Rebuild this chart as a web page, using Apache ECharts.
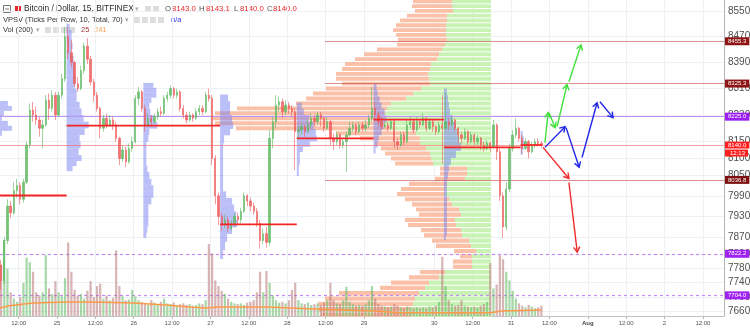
<!DOCTYPE html>
<html>
<head>
<meta charset="utf-8">
<script src="https://cdn.jsdelivr.net/npm/echarts@6.0.0/dist/echarts.min.js"></script>
<style>html,body{margin:0;padding:0;background:#fff;}#chart{width:750px;height:331px;}</style>
</head>
<body>
<div id="chart"></div>
<script>
// ================= DATA =================
// hourly candles, first candle starts at hour index 6 (24 Jul 06:00); [open, close, low, high]
const firstHour = 6;
const candles = [
[7790,7745,7720,7805],[7745,7860,7735,7870],[7860,7960,7850,7980],[7960,7940,7925,7975],[7940,8005,7935,8030],
[8005,8020,7985,8040],[8020,7980,7965,8030],[7980,8030,7970,8040],[8030,8140,8025,8150],[8140,8245,8130,8265],
[8245,8230,8210,8270],[8230,8215,8200,8255],[8215,8190,8165,8225],[8190,8200,8130,8215],[8200,8275,8195,8290],
[8275,8250,8215,8295],[8250,8290,8240,8305],[8290,8230,8215,8300],[8230,8290,8225,8300],[8290,8340,8280,8355],
[8340,8470,8330,8500],[8470,8420,8400,8500],[8420,8390,8375,8460],[8390,8325,8315,8395],[8325,8310,8300,8345],
[8310,8365,8305,8380],[8365,8440,8355,8450],[8440,8400,8385,8465],[8400,8330,8320,8410],[8330,8290,8270,8340],
[8290,8250,8240,8300],[8250,8190,8160,8255],[8190,8220,8180,8230],[8220,8200,8190,8235],[8200,8215,8195,8230],
[8215,8200,8185,8225],[8200,8160,8150,8210],[8160,8100,8080,8165],[8100,8125,8090,8140],[8125,8090,8075,8135],
[8090,8130,8085,8145],[8130,8150,8120,8165],[8150,8280,8145,8290],[8280,8300,8260,8315],[8300,8250,8240,8305],
[8250,8200,8180,8260],[8200,8220,8195,8235],[8220,8210,8200,8230],[8210,8225,8205,8235],[8225,8240,8215,8250],
[8240,8235,8225,8255],[8235,8280,8230,8290],[8280,8290,8270,8300],[8290,8310,8280,8320],[8310,8290,8280,8315],
[8290,8300,8280,8310],[8300,8250,8240,8305],[8250,8230,8220,8260],[8230,8215,8205,8240],[8215,8230,8210,8240],
[8230,8220,8210,8235],[8220,8240,8215,8250],[8240,8250,8230,8260],[8250,8240,8230,8260],[8240,8290,8235,8300],
[8290,8280,8270,8310],[8280,8100,8080,8290],[8100,7990,7965,8110],[7990,7930,7905,8000],[7930,7905,7888,7940],
[7905,7920,7895,7935],[7920,7895,7885,7930],[7895,7910,7888,7920],[7910,7930,7900,7940],[7930,7920,7905,7940],
[7920,7945,7910,7955],[7945,7990,7940,8000],[7990,7975,7960,7995],[7975,7960,7945,7985],[7960,7945,7935,7970],
[7945,7910,7900,7955],[7910,7860,7837,7920],[7860,7880,7850,7895],[7880,7855,7840,7900],[7855,8160,7845,8185],
[8160,8210,8130,8225],[8210,8260,8190,8290],[8260,8270,8240,8285],[8270,8240,8220,8280],[8240,8260,8230,8275],
[8260,8250,8235,8270],[8250,8240,8225,8260],[8240,8180,8065,8250],[8180,8185,8160,8200],[8185,8195,8170,8205],
[8195,8180,8165,8200],[8180,8200,8175,8215],[8200,8220,8190,8235],[8220,8210,8195,8230],[8210,8230,8200,8240],
[8230,8220,8195,8240],[8220,8190,8180,8225],[8190,8210,8185,8225],[8210,8160,8140,8215],[8160,8150,8125,8175],
[8150,8170,8140,8180],[8170,8140,8130,8175],[8140,8150,8130,8160],[8150,8170,8060,8180],[8170,8190,8165,8210],
[8190,8200,8180,8210],[8200,8180,8170,8205],[8180,8200,8175,8210],[8200,8190,8180,8210],[8190,8200,8180,8215],
[8200,8220,8190,8230],[8220,8250,8210,8315],[8250,8230,8210,8270],[8230,8210,8195,8240],[8210,8195,8185,8225],
[8195,8200,8190,8210],[8200,8190,8180,8210],[8190,8210,8185,8220],[8210,8150,8130,8215],[8150,8140,8125,8160],
[8140,8170,8135,8180],[8170,8150,8140,8180],[8150,8200,8145,8215],[8200,8210,8190,8225],[8210,8185,8175,8215],
[8185,8210,8180,8225],[8210,8200,8190,8215],[8200,8220,8195,8235],[8220,8190,8180,8225],[8190,8210,8185,8220],
[8210,8195,8180,8215],[8195,8180,8170,8200],[8180,8200,8175,8210],[8200,8190,8085,8290],[8190,8210,8180,8295],
[8210,8200,8185,8220],[8200,8215,8195,8225],[8215,8190,8180,8220],[8190,8170,8145,8195],[8170,8160,8145,8180],
[8160,8180,8155,8190],[8180,8150,8140,8185],[8150,8170,8145,8180],[8170,8150,8140,8175],[8150,8160,8140,8170],
[8160,8140,8125,8165],[8140,8130,8120,8150],[8130,8145,8125,8155],[8145,8135,8120,8150],[8135,8200,8130,8215],
[8200,8120,8095,8205],[8120,7990,7975,8130],[7990,7900,7868,8000],[7900,8010,7890,8030],[8010,8130,8000,8145],
[8130,8170,8120,8185],[8170,8190,8160,8220],[8190,8160,8150,8195],[8160,8130,8115,8170],[8130,8150,8125,8160],
[8150,8120,8100,8155],[8120,8140,8115,8150],[8140,8150,8130,8160],[8150,8145,8135,8160],[8145,8140,8132,8152]
];
const volumes = [
650,960,600,300,220,180,240,420,740,680,
560,300,260,300,770,350,280,440,300,250,
480,930,560,330,260,280,220,320,440,240,
380,410,220,260,200,230,830,380,250,200,
210,330,250,200,180,160,150,200,170,150,
180,220,160,150,170,140,150,160,140,150,
130,140,160,150,200,910,790,450,380,320,
280,220,180,160,150,160,140,170,180,200,
300,560,300,570,420,260,200,170,180,160,
200,330,420,200,160,150,170,140,150,160,
140,170,200,420,200,160,150,200,370,180,
150,130,140,130,150,200,380,220,150,130,
120,110,120,150,130,110,100,120,110,100,
110,100,110,100,120,110,130,180,750,380,
200,150,130,140,200,130,120,110,120,110,
130,150,180,670,350,400,770,720,560,450,
320,220,160,130,110,140,120,100,110,130
];
const volumeMA = [[6.2,100],[9,130],[16.5,165],[27,178],[35,178],[48,165],[58,140],[66.5,110],[71,100],[74,114],
[90,114],[97,100],[110,78],[123,62],[130,45],[150,42],[160,45],[163,62],[175.5,76]];

const xTickHours  = [12,24,36,48,60,72,84,96,108,120,142,154,166,178,190,202,214,226];
const xTickLabels = ['12:00','25','12:00','26','12:00','27','12:00','28','12:00','29','30','12:00','31','12:00','Aug','12:00','2','12:00'];
const priceTicks = [8550,8470,8390,8310,8230,8150,8100,8050,7990,7930,7870,7820,7780,7740,7700,7660];

// visible-range volume profile (anchored right), row price, up volume, down volume
const profilePrices = [8580,8565,8550,8535,8520,8505,8490,8475,8460,8445,8430,8415,8400,8385,8370,8355,8340,8325,8310,8295,8280,8265,8250,8235,8220,8205,8190,8175,8160,8145,8130,8115,8100,8085,8070,8055,8040,8025,8010,7995,7980,7965,7950,7935,7920,7905,7890,7875,7860,7845,7830,7815,7800,7785,7770,7755,7740,7725,7710,7695,7680,7665,7650];
const profileUp   = [39,39,38,44,44,45,45,45,44,46,49,52,54,60,61,63,62,61,70,78,85,100,104,106,108,106,100,75,71,71,65,61,60,58,24,24,26,44,45,46,42,39,32,30,36,35,30,29,22,20,15,19,19,19,46,52,62,66,72,76,78,80,80];
const profileDown = [39,40,38,40,47,50,53,50,49,48,65,75,82,86,88,92,93,88,95,100,100,95,150,170,170,170,155,80,60,45,45,45,40,38,27,27,30,38,45,48,44,40,43,42,50,48,40,38,37,35,22,12,19,19,25,30,38,45,80,90,95,92,90];

// session volume profiles (VPSV)
const sessionStarts = [3,27,51,75,99,123,145,169];
const sessionEnds   = [27,51,75,99,123,145,169,175.7];
const sessionPOC    = [7991,8198,8198,7907,8160,8216,8133,8140];
const sessA = [[8265,18],[8250,22],[8235,14],[8220,12],[8205,18],[8190,22],[8175,12]];
const sessB = [[8500,3],[8480,5],[8460,5],[8440,6],[8420,5],[8400,7],[8380,8],[8360,8],[8340,9],[8320,8],[8300,10],[8280,10],[8260,13],[8240,15],[8220,17],[8200,22],[8180,18],[8160,13],[8140,14],[8120,12],[8100,15],[8085,10],[8070,6]];
const sessC = [[8320,10],[8305,13],[8290,13],[8275,8],[8258,6],[8240,7],[8220,10],[8198,14],[8180,6],[8160,5],[8140,3],[8115,3],[8090,3],[8070,4],[8050,6],[8030,8],[8012,10],[7993,10],[7975,8],[7955,5],[7935,5],[7910,5],[7890,4],[7875,3]];
const sessD = [[8282,8],[8262,10],[8240,10],[8220,12],[8198,13],[8178,10],[8160,4],[8130,3],[8100,3],[8070,3],[8040,3],[8013,3],[7993,6],[7975,12],[7955,14],[7935,16],[7907,17],[7890,12],[7868,7],[7845,5],[7820,3]];
const sessE = [[8258,5],[8240,7],[8220,12],[8198,17],[8178,19],[8160,20],[8142,13],[8128,6],[8110,3],[8090,3],[8072,2],[8056,2]];
const sessF = [[8315,3],[8295,4],[8278,6],[8258,8],[8240,11],[8218,13],[8198,10],[8178,8],[8160,5],[8142,4],[8124,2]];
const sessG = [[8300,3],[8280,4],[8258,5],[8240,6],[8220,9],[8198,12],[8178,13],[8160,15],[8133,17],[8112,12],[8091,7],[8071,5],[8050,4],[8027,3],[7996,3],[7967,3],[7938,3],[7907,3],[7882,3],[7868,2]];
const sessH = [[8175,2],[8160,3],[8145,5],[8132,3],[8118,2]];
const sessionRows = [sessA,sessB,sessC,sessD,sessE,sessF,sessG,sessH];

// drawn horizontal levels
const levelPrices = [8455.3, 8325.3, 8225.0, 8140.0, 8036.8, 7822.2, 7704.0];
const levelLabels = ['8455.3','8325.3','8225.0','8140.0','8036.8','7822.2','7704.0'];
const levelFrom   = [107.8, 107.8, null, null, 107.8, null, null];
const countdownLabel = '12:13';

// drawn arrows: [fromHour, fromPrice, toHour, toPrice]
const greenArrow = [[176.6,8147,177.6,8237],[177.9,8237,179.8,8192],[180.4,8195,183.5,8322],[184.1,8331,187.9,8444]];
const blueArrow  = [[176.6,8133,182.9,8195],[183.2,8192,187.3,8074],[188.2,8103,192.9,8267],[193.8,8270,197.9,8222]];
const redArrow   = [[176.0,8133,184.1,8041],[184.1,8029,186.7,7827]];

const legendOHLC = ['8143.0','8143.1','8140.0','8140.0'];
const volLegend = ['25','241'];

// ================= STYLES =================
const X_MIN = 6.17, X_MAX = 232.6, P_MIN = 7646, P_MAX = 8584;
const UP = '#5cb85f', DN = '#ee5a5a';
const FONT = '"Liberation Sans", Arial, sans-serif';
const levelLine = [
  {color:'rgba(196,70,70,0.6)', width:1, type:'solid'},
  {color:'rgba(196,70,70,0.6)', width:1, type:'solid'},
  {color:'#bd92f3', width:1, type:'solid'},
  {color:'rgba(255,95,95,0.6)', width:1.2, type:'solid'},
  {color:'rgba(196,70,70,0.6)', width:1, type:'solid'},
  {color:'#c48af6', width:1.2, type:[3,3]},
  {color:'#c48af6', width:1.2, type:[3,3]}
];
const levelTag = ['#8e1515','#8e1515','#9b1ff2','#ff1f1f','#7d1111','#a022f2','#a022f2'];

// ================= BUILD =================
const candleData = candles.map((c,i)=>[firstHour+i+0.5, c[0], c[1], c[2], c[3]]);
const volData = volumes.map((v,i)=>({value:[firstHour+i+0.5, v],
  itemStyle:{color: candles[i][1] >= candles[i][0] ? 'rgba(92,184,95,0.55)' : 'rgba(178,105,105,0.5)'}}));

function rowsWithBounds(prices){
  const n = prices.length;
  return prices.map((p,i)=>{
    const hi = i===0 ? p + (p - prices[1])/2 : (p + prices[i-1])/2;
    const lo = i===n-1 ? p - (prices[n-2] - p)/2 : (p + prices[i+1])/2;
    return [hi, lo];
  });
}
const profB = rowsWithBounds(profilePrices);
const profileData = profilePrices.map((p,i)=>[p, profileUp[i], profileDown[i], profB[i][0], profB[i][1]]);

const sessionData = [];
sessionRows.forEach((rows, s)=>{
  const b = rowsWithBounds(rows.map(r=>r[0]));
  rows.forEach((r,i)=>sessionData.push([sessionStarts[s], r[0], r[1], b[i][0], b[i][1]]));
});
const sessionHoursPerUnit = 0.313;
const pocData = sessionStarts.map((s,i)=>[s, sessionEnds[i], sessionPOC[i]]);

function arrowRender(color){
  return function(params, api){
    const a = api.coord([api.value(0), api.value(1)]);
    const b = api.coord([api.value(2), api.value(3)]);
    const ang = Math.atan2(b[1]-a[1], b[0]-a[0]);
    const L = 6, w = 0.55;
    const p1 = [b[0]-L*Math.cos(ang-w), b[1]-L*Math.sin(ang-w)];
    const p2 = [b[0]-L*Math.cos(ang+w), b[1]-L*Math.sin(ang+w)];
    return {type:'group', children:[
      {type:'line', shape:{x1:a[0],y1:a[1],x2:b[0],y2:b[1]}, style:{stroke:color, lineWidth:1.4}},
      {type:'polyline', shape:{points:[p1,b,p2]}, style:{stroke:color, lineWidth:1.4, fill:null}}
    ]};
  };
}

// grid / price label mark lines
const gridLineData = priceTicks.map(p=>({yAxis:p,
    lineStyle:{color:'#edf0f4', width:1, type:'solid'},
    label:{show:true, position:'end', formatter:String(p), color:'#4f4f4f', fontSize:10, fontFamily:FONT, distance:4}}))
  .concat(xTickHours.map(h=>({xAxis:h, lineStyle:{color:'#edf0f4', width:1, type:'solid'}, label:{show:false}})));

const levelData = levelPrices.map((p,i)=>{
  const lab = {show:true, position:'end', distance:1, fontFamily:FONT};
  if (i === 3) {
    Object.assign(lab, {formatter:'{a|'+levelLabels[i]+'}\n{b|'+countdownLabel+'}', offset:[0,4],
      rich:{a:{backgroundColor:levelTag[i], color:'#fff', fontSize:6, lineHeight:8, padding:[1,3,0,3]},
            b:{backgroundColor:levelTag[i], color:'#fff', fontSize:6, lineHeight:8, padding:[1,3,0,5]}}});
  } else {
    Object.assign(lab, {formatter:levelLabels[i], backgroundColor:levelTag[i], color:'#fff', fontSize:6, padding:[1,3,1,3]});
  }
  const style = {lineStyle:levelLine[i], label:lab};
  if (levelFrom[i] == null) return Object.assign({yAxis:p}, style);
  return [Object.assign({coord:[levelFrom[i], p]}, style), {coord:[X_MAX, p]}];
});

const option = {
  animation:false,
  backgroundColor:'#ffffff',
  grid:[
    {left:0, right:26, top:0, bottom:15, outerBoundsMode:'none'},
    {left:0, right:26, top:0, bottom:15, outerBoundsMode:'none'},
    {left:0, right:259, top:0, bottom:15, outerBoundsMode:'none'}
  ],
  xAxis:[
    {type:'value', gridIndex:0, min:X_MIN, max:X_MAX, splitLine:{show:false},
     axisLine:{show:true, onZero:false, lineStyle:{color:'#c4c4c4'}},
     axisTick:{show:true, length:3, customValues:xTickHours, lineStyle:{color:'#b8b8b8'}},
     axisLabel:{show:true, customValues:xTickHours, fontSize:6, color:'#555', fontFamily:FONT, margin:4,
       formatter:(v)=>{const i = xTickHours.indexOf(v); const t = i>=0 ? xTickLabels[i] : ''; return t==='Aug' ? '{b|Aug}' : t;},
       rich:{b:{fontWeight:'bold', fontSize:6, color:'#444', fontFamily:FONT}}}},
    {type:'value', gridIndex:1, min:X_MIN, max:X_MAX, show:false},
    {type:'value', gridIndex:2, min:0, max:491, inverse:true, show:false}
  ],
  yAxis:[
    {type:'log', gridIndex:0, min:P_MIN, max:P_MAX, position:'right',
     axisLine:{show:true, onZero:false, lineStyle:{color:'#b5b5b5'}}, axisTick:{show:false},
     axisLabel:{show:false}, splitLine:{show:false}, minorTick:{show:false}, minorSplitLine:{show:false}},
    {type:'value', gridIndex:1, min:0, max:4000, show:false},
    {type:'log', gridIndex:2, min:P_MIN, max:P_MAX, show:false}
  ],
  graphic:[
    {type:'rect', shape:{x:3.5,y:5.5,width:7,height:7}, style:{fill:'#fff', stroke:'#7a7a7a', lineWidth:1}},
    {type:'line', shape:{x1:5,y1:9,x2:9,y2:9}, style:{stroke:'#7a7a7a', lineWidth:1}},
    {type:'rect', shape:{x:15,y:6,width:6,height:6}, style:{fill:'#e8282b'}},
    {type:'text', x:24, y:9, style:{text:'Bitcoin / Dollar, 15, BITFINEX', fill:'#2a2a2a', font:'8.4px '+FONT, verticalAlign:'middle', textVerticalAlign:'middle'}},
    {type:'text', x:135, y:9, style:{text:'▾', fill:'#aaa', font:'7px '+FONT, verticalAlign:'middle', textVerticalAlign:'middle'}},
    {type:'rect', shape:{x:145,y:6,width:6,height:6}, style:{fill:'#dedede'}},
    {type:'rect', shape:{x:153,y:6,width:6,height:6}, style:{fill:'#dedede'}},
    {type:'text', x:165, y:9, style:{text:'O', fill:'#555', font:'7.8px '+FONT, verticalAlign:'middle', textVerticalAlign:'middle'}},
    {type:'text', x:172, y:9, style:{text:legendOHLC[0], fill:'#e8292b', font:'7.8px '+FONT, verticalAlign:'middle', textVerticalAlign:'middle'}},
    {type:'text', x:199, y:9, style:{text:'H', fill:'#555', font:'7.8px '+FONT, verticalAlign:'middle', textVerticalAlign:'middle'}},
    {type:'text', x:206, y:9, style:{text:legendOHLC[1], fill:'#e8292b', font:'7.8px '+FONT, verticalAlign:'middle', textVerticalAlign:'middle'}},
    {type:'text', x:234, y:9, style:{text:'L', fill:'#555', font:'7.8px '+FONT, verticalAlign:'middle', textVerticalAlign:'middle'}},
    {type:'text', x:240, y:9, style:{text:legendOHLC[2], fill:'#e8292b', font:'7.8px '+FONT, verticalAlign:'middle', textVerticalAlign:'middle'}},
    {type:'text', x:267, y:9, style:{text:'C', fill:'#555', font:'7.8px '+FONT, verticalAlign:'middle', textVerticalAlign:'middle'}},
    {type:'text', x:273, y:9, style:{text:legendOHLC[3], fill:'#e8292b', font:'7.8px '+FONT, verticalAlign:'middle', textVerticalAlign:'middle'}},

    {type:'text', x:3, y:20, style:{text:'VPSV (Ticks Per Row, 10, Total, 70)', fill:'#333', font:'7.5px '+FONT, verticalAlign:'middle', textVerticalAlign:'middle'}},
    {type:'text', x:125, y:20, style:{text:'▾', fill:'#aaa', font:'7px '+FONT, verticalAlign:'middle', textVerticalAlign:'middle'}},
    {type:'rect', shape:{x:134,y:17,width:6,height:6}, style:{fill:'#dedede'}},
    {type:'rect', shape:{x:142,y:17,width:6,height:6}, style:{fill:'#dedede'}},
    {type:'rect', shape:{x:150,y:17,width:6,height:6}, style:{fill:'#dedede'}},
    {type:'rect', shape:{x:158,y:17,width:6,height:6}, style:{fill:'#dedede'}},
    {type:'text', x:171, y:20, style:{text:'n/a', fill:'#3535f5', font:'7.5px '+FONT, verticalAlign:'middle', textVerticalAlign:'middle'}},

    {type:'text', x:3, y:30, style:{text:'Vol (200)', fill:'#333', font:'7.5px '+FONT, verticalAlign:'middle', textVerticalAlign:'middle'}},
    {type:'text', x:36, y:30, style:{text:'▾', fill:'#aaa', font:'7px '+FONT, verticalAlign:'middle', textVerticalAlign:'middle'}},
    {type:'rect', shape:{x:45,y:27,width:6,height:6}, style:{fill:'#dedede'}},
    {type:'rect', shape:{x:53,y:27,width:6,height:6}, style:{fill:'#dedede'}},
    {type:'rect', shape:{x:61,y:27,width:6,height:6}, style:{fill:'#dedede'}},
    {type:'rect', shape:{x:69,y:27,width:6,height:6}, style:{fill:'#dedede'}},
    {type:'text', x:81, y:30, style:{text:volLegend[0], fill:'#a33a3a', font:'7.5px '+FONT, verticalAlign:'middle', textVerticalAlign:'middle'}},
    {type:'text', x:94, y:30, style:{text:volLegend[1], fill:'#f5a05a', font:'7.5px '+FONT, verticalAlign:'middle', textVerticalAlign:'middle'}}
  ],
  series:[
    {type:'line', name:'grid', xAxisIndex:0, yAxisIndex:0, data:[], z:1, silent:true,
     markLine:{silent:true, symbol:['none','none'], z:1, animation:false, data:gridLineData}},
    {type:'custom', name:'profile', xAxisIndex:2, yAxisIndex:2, z:2, silent:true, clip:false,
     encode:{x:[1,2], y:[0,3,4]}, data:profileData,
     renderItem:(params, api)=>{
       const up = api.value(1), dn = api.value(2), hi = api.value(3), lo = api.value(4);
       const a = api.coord([0, hi]);
       const b = api.coord([up, lo]);
       const c = api.coord([up+dn, lo]);
       const top = a[1] + 0.5, h = Math.max(1, b[1] - a[1] - 1);
       return {type:'group', children:[
         {type:'rect', shape:{x:b[0], y:top, width:a[0]-b[0], height:h}, style:{fill:'#c8f3b5'}},
         {type:'rect', shape:{x:c[0], y:top, width:b[0]-c[0], height:h}, style:{fill:'#fbc1a8'}}
       ]};
     }},
    {type:'custom', name:'sessions', xAxisIndex:0, yAxisIndex:0, z:3, silent:true, clip:true,
     encode:{x:0, y:[1,3,4]}, data:sessionData,
     renderItem:(params, api)=>{
       const s = api.value(0), v = api.value(2), hi = api.value(3), lo = api.value(4);
       const a = api.coord([s, hi]);
       const b = api.coord([s + v*sessionHoursPerUnit, lo]);
       return {type:'rect', shape:{x:a[0], y:a[1], width:b[0]-a[0], height:Math.max(0.8, b[1]-a[1])},
               style:{fill:'rgba(118,128,242,0.5)'}};
     }},
    {type:'line', name:'levels', xAxisIndex:0, yAxisIndex:0, data:[], z:4, silent:true,
     markLine:{silent:true, symbol:['none','none'], z:4, animation:false, data:levelData}},
    {type:'bar', name:'volume', xAxisIndex:1, yAxisIndex:1, data:volData, barWidth:2.2, z:5, silent:true},
    {type:'line', name:'volMA', xAxisIndex:1, yAxisIndex:1, data:volumeMA, showSymbol:false, symbol:'none', z:6,
     lineStyle:{color:'#ff9a4a', width:1.5}, silent:true},
    {type:'candlestick', name:'BTCUSD', xAxisIndex:0, yAxisIndex:0, data:candleData, z:7,
     encode:{x:0, y:[1,2,3,4]}, barWidth:1.8, silent:true,
     itemStyle:{color:UP, color0:DN, borderColor:UP, borderColor0:DN, borderWidth:0.7, opacity:0.85}},
    {type:'custom', name:'poc', xAxisIndex:0, yAxisIndex:0, z:8, silent:true, clip:true,
     encode:{x:[0,1], y:2}, data:pocData,
     renderItem:(params, api)=>{
       const a = api.coord([api.value(0), api.value(2)]);
       const b = api.coord([api.value(1), api.value(2)]);
       return {type:'line', shape:{x1:a[0], y1:a[1], x2:b[0], y2:b[1]}, style:{stroke:'#f52525', lineWidth:1.8}};
     }},
    {type:'custom', name:'greenArrow', xAxisIndex:0, yAxisIndex:0, z:9, silent:true, clip:false,
     encode:{x:[0,2], y:[1,3]}, data:greenArrow, renderItem:arrowRender('#3fe03a')},
    {type:'custom', name:'blueArrow', xAxisIndex:0, yAxisIndex:0, z:9, silent:true, clip:false,
     encode:{x:[0,2], y:[1,3]}, data:blueArrow, renderItem:arrowRender('#2027e6')},
    {type:'custom', name:'redArrow', xAxisIndex:0, yAxisIndex:0, z:9, silent:true, clip:false,
     encode:{x:[0,2], y:[1,3]}, data:redArrow, renderItem:arrowRender('#f02b2b')}
  ]
};
const chart = echarts.init(document.getElementById('chart'), null, {renderer:'canvas', width:750, height:331});
chart.setOption(option);
</script>
</body>
</html>
